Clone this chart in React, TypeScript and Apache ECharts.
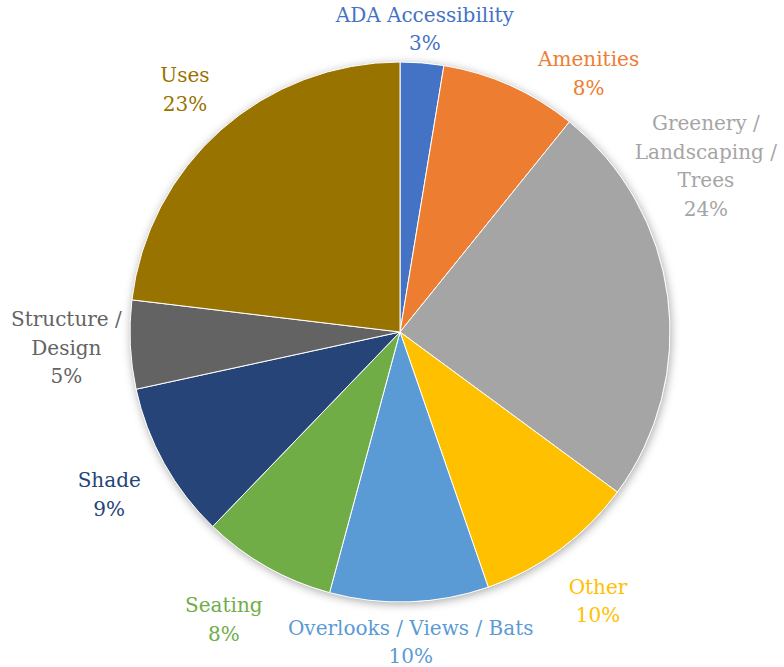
import React, { useEffect, useRef } from "react";
import * as echarts from "echarts";

const categories = [
  "ADA Accessibility",
  "Amenities",
  "Greenery /\nLandscaping /\nTrees",
  "Other",
  "Overlooks / Views / Bats",
  "Seating",
  "Shade",
  "Structure /\nDesign",
  "Uses",
];
const values = [2.6, 8.2, 24.3, 9.6, 9.5, 8.0, 9.4, 5.3, 23.1];
const colors = [
  "#4472C4",
  "#ED7D31",
  "#A5A5A5",
  "#FFC000",
  "#5B9BD5",
  "#70AD47",
  "#264478",
  "#636363",
  "#997300",
];

const W = 784;
const H = 667;
const CX = 400;
const CY = 332;
const R = 270;
const MARGIN = 7;
const PAD_X = 24;
const PAD_Y = 4;
const CLAMP_EXTRA_GAP = 8;
const FONT_SIZE = 20;
const LINE_H = 28.5;
const FONT_FAMILY = "DejaVu Serif";

let measureCtx: CanvasRenderingContext2D | null = null;
function textWidth(s: string) {
  if (!measureCtx) {
    const c = document.createElement("canvas");
    measureCtx = c.getContext("2d");
  }
  if (!measureCtx) return s.length * FONT_SIZE * 0.55;
  measureCtx.font = `${FONT_SIZE}px "${FONT_FAMILY}"`;
  return measureCtx.measureText(s).width;
}

type Box = { x0: number; y0: number; x1: number; y1: number };

// nearest distance from the pie centre to the stepped text shape centred at (x, y)
function clearance(x: number, y: number, widths: number[]) {
  const n = widths.length;
  const top = y - (n * LINE_H) / 2;
  let best = Infinity;
  for (let k = 0; k < n; k++) {
    const x0 = x - widths[k] / 2;
    const x1 = x + widths[k] / 2;
    const y0 = top + k * LINE_H;
    const y1 = y0 + LINE_H;
    const nx = Math.max(x0, Math.min(CX, x1));
    const ny = Math.max(y0, Math.min(CY, y1));
    best = Math.min(best, Math.hypot(nx - CX, ny - CY));
  }
  return best;
}

function overlaps(b: Box, placed: Box[]) {
  return placed.some(
    (p) =>
      b.x0 < p.x1 + PAD_X &&
      b.x1 > p.x0 - PAD_X &&
      b.y0 < p.y1 + PAD_Y &&
      b.y1 > p.y0 - PAD_Y
  );
}

let placedBoxes: Box[] = [];

function layoutLabel(params: any) {
  const i = params.dataIndex;
  if (i === 0) placedBoxes = [];
  const total = values.reduce((a, b) => a + b, 0);
  let start = 0;
  for (let k = 0; k < i; k++) start += values[k];
  const lines = String(params.text).split("\n");
  const widths = lines.map(textWidth);
  const w = Math.max(...widths);
  const h = lines.length * LINE_H;
  const mid = ((start + values[i] / 2) / total) * Math.PI * 2;

  const place = (theta: number) => {
    const ux = Math.sin(theta);
    const uy = -Math.cos(theta);
    const gap = 6 + 15 * Math.abs(Math.sin(2 * theta)) - 4 * Math.cos(theta);
    let d = 0;
    while (clearance(CX + d * ux, CY + d * uy, widths) < R + gap && d < 1000) d += 1;
    let x = CX + d * ux;
    let y = CY + d * uy;
    let clamped = false;
    if (x + w / 2 > W - MARGIN) {
      x = W - MARGIN - w / 2;
      clamped = true;
    }
    if (x - w / 2 < MARGIN) {
      x = MARGIN + w / 2;
      clamped = true;
    }
    if (clamped) {
      const s = uy > 0 ? 1 : -1;
      let n = 0;
      while (clearance(x, y, widths) < R + gap + CLAMP_EXTRA_GAP && n < 1000) {
        y += s;
        n++;
      }
    }
    return { x, y };
  };

  let theta = mid;
  let pos = place(theta);
  let box: Box = { x0: pos.x - w / 2, y0: pos.y - h / 2, x1: pos.x + w / 2, y1: pos.y + h / 2 };
  let tries = 0;
  while (overlaps(box, placedBoxes) && tries < 90) {
    theta += Math.PI / 180;
    pos = place(theta);
    box = { x0: pos.x - w / 2, y0: pos.y - h / 2, x1: pos.x + w / 2, y1: pos.y + h / 2 };
    tries++;
  }
  placedBoxes.push(box);
  return { x: pos.x, y: pos.y, align: "center", verticalAlign: "middle" };
}

export default function App() {
  const ref = useRef<HTMLDivElement>(null);
  useEffect(() => {
    if (!ref.current) return;
    const chart = echarts.init(ref.current, null, { renderer: "svg" });
    chart.setOption({
      animation: false,
      backgroundColor: "#ffffff",
      graphic: [
        {
          type: "circle",
          z: 0,
          silent: true,
          shape: { cx: CX, cy: CY, r: R },
          style: {
            fill: "#ffffff",
            shadowBlur: 10,
            shadowColor: "rgba(0,0,0,0.35)",
            shadowOffsetX: 1,
            shadowOffsetY: 2,
          },
        },
      ],
      series: [
        {
          type: "pie",
          center: [CX, CY],
          radius: [0, R],
          startAngle: 90,
          clockwise: true,
          percentPrecision: 0,
          avoidLabelOverlap: false,
          itemStyle: { borderColor: "#ffffff", borderWidth: 1 },
          label: {
            show: true,
            position: "outside",
            formatter: "{b}\n{d}%",
            fontFamily: FONT_FAMILY,
            fontSize: FONT_SIZE,
            lineHeight: LINE_H,
            align: "center",
          },
          labelLine: { show: false },
          labelLayout: layoutLabel,
          emphasis: { disabled: true },
          data: categories.map((name, i) => ({
            name,
            value: values[i],
            itemStyle: { color: colors[i] },
            label: { color: colors[i] },
          })),
        },
      ],
    });
    return () => chart.dispose();
  }, []);
  return (
    <div
      ref={ref}
      style={{ position: "absolute", left: 0, top: 0, width: W, height: H }}
    />
  );
}
